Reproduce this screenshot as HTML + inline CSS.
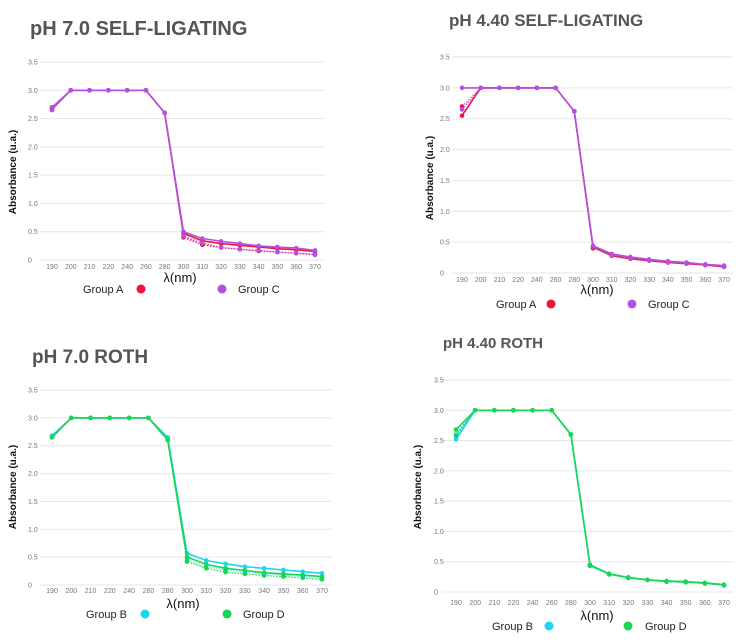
<!DOCTYPE html>
<html><head><meta charset="utf-8">
<style>
html,body{margin:0;padding:0;background:#fff;}
svg{display:block;font-family:"Liberation Sans",sans-serif;}
.title{font-weight:bold;fill:#555;}
.tick{font-size:7px;fill:#777;}
.ytitle{font-size:10px;font-weight:bold;fill:#111;}
.xtitle{font-size:13px;fill:#111;}
.leg{font-size:11px;fill:#222;}
</style></head>
<body>
<svg id="c" width="744" height="643" viewBox="0 0 744 643"></svg>
<script>
const categories=[190,200,210,220,240,260,280,300,310,320,330,340,350,360,370];
const yTicks=[0,0.5,1.0,1.5,2.0,2.5,3.0,3.5];
const yTickLabels=["0","0.5","1.0","1.5","2.0","2.5","3.0","3.5"];
// panel 1 pH 7.0 self-ligating
const p1A=[2.68,3,3,3,3,3,2.6,0.47,0.34,0.29,0.26,0.23,0.2,0.18,0.15];
const p1A2=[2.66,3,3,3,3,3,2.6,0.4,0.27,0.22,0.19,0.16,0.14,0.12,0.1];
const p1C=[2.7,3,3,3,3,3,2.6,0.5,0.38,0.33,0.29,0.25,0.23,0.21,0.17];
const p1C2=[2.65,3,3,3,3,3,2.6,0.42,0.3,0.22,0.19,0.17,0.14,0.12,0.09];
// panel 2 pH 4.40 self-ligating
const p2A=[2.55,3,3,3,3,3,2.62,0.42,0.28,0.23,0.2,0.17,0.15,0.13,0.1];
const p2A2=[2.7,3,3,3,3,3,2.62,0.4,0.3,0.25,0.21,0.18,0.16,0.13,0.11];
const p2C=[3.0,3,3,3,3,3,2.62,0.44,0.31,0.26,0.22,0.19,0.17,0.14,0.12];
const p2C2=[2.65,3,3,3,3,3,2.62,0.43,0.29,0.24,0.2,0.17,0.15,0.13,0.1];
// panel 3 pH 7.0 Roth
const p3B=[2.68,3,3,3,3,3,2.65,0.57,0.44,0.38,0.33,0.3,0.27,0.24,0.21];
const p3B2=[2.66,3,3,3,3,3,2.62,0.45,0.33,0.27,0.23,0.2,0.18,0.16,0.13];
const p3D=[2.65,3,3,3,3,3,2.6,0.5,0.37,0.3,0.26,0.22,0.2,0.18,0.15];
const p3D2=[2.65,3,3,3,3,3,2.6,0.42,0.3,0.23,0.2,0.17,0.15,0.13,0.1];
// panel 4 pH 4.40 Roth
const p4B=[2.52,3,3,3,3,3,2.6,0.44,0.3,0.24,0.2,0.18,0.17,0.15,0.12];
const p4B2=[2.6,3,3,3,3,3,2.6,0.43,0.29,0.24,0.2,0.17,0.16,0.14,0.11];
const p4D=[2.68,3,3,3,3,3,2.6,0.45,0.3,0.24,0.2,0.18,0.17,0.15,0.12];
const p4D2=[2.58,3,3,3,3,3,2.6,0.44,0.29,0.23,0.2,0.17,0.16,0.14,0.11];

const NS="http://www.w3.org/2000/svg";
const svg=document.getElementById('c');
function mk(tag,attrs,parent){const e=document.createElementNS(NS,tag);for(const k in attrs)e.setAttribute(k,attrs[k]);(parent||svg).appendChild(e);return e;}

function panel(cfg){
  const g=mk('g',{});
  
  
  const yS=v=>cfg.y0+(cfg.y35-cfg.y0)*v/3.5;
  const xS=i=>cfg.x190+(cfg.x370-cfg.x190)*i/(categories.length-1);
  const t=mk('text',{x:cfg.tx,y:cfg.ty,class:'title','font-size':cfg.tfs},g);
  t.textContent=cfg.title;
  
  
  yTicks.forEach((v,i)=>{
    const l=mk('line',{x1:cfg.gx0,x2:cfg.gx1,y1:yS(v),y2:yS(v),stroke:'#e6e6e6','stroke-width':1},g);
    
    
    const tt=mk('text',{x:cfg.lx,y:yS(v)+2.5,class:'tick'},g);
    tt.textContent=yTickLabels[i];
    
    
  });
  categories.forEach((c,i)=>{
    const tt=mk('text',{x:xS(i),y:cfg.xly,class:'tick','text-anchor':'middle'},g);
    tt.textContent=c;
    
    
  });
  const yt=mk('text',{x:0,y:0,class:'ytitle','text-anchor':'middle',transform:`translate(${cfg.ytx},${cfg.yty}) rotate(-90)`},g);
  yt.textContent='Absorbance (u.a.)';
  
  
  const xt=mk('text',{x:cfg.xtx,y:cfg.xty,class:'xtitle','text-anchor':'middle'},g);
  xt.textContent='λ(nm)';
  
  
  cfg.series.forEach(s=>{
    const pts=s.data.map((v,i)=>xS(i).toFixed(1)+','+yS(v).toFixed(1)).join(' ');
    const pl=mk('polyline',{points:pts,fill:'none',stroke:s.color,'stroke-width':s.dash?1.3:1.6,'stroke-dasharray':s.dash?'1.5,1.5':'none',opacity:s.op||1},g);
    
    
    s.data.forEach((v,i)=>{
      const c=mk('circle',{cx:xS(i),cy:yS(v),r:2.3,fill:s.color},g);
      
      
    });
  });
  cfg.legend.forEach(L=>{
    const lt=mk('text',{x:L.x,y:cfg.legy+4,class:'leg'},g);
    lt.textContent=L.label;
    
    
    const ld=mk('circle',{cx:L.dx,cy:cfg.legy,r:4.5,fill:L.color},g);
    
    
  });
}
const RED='#f0133a',PUR='#b44fe0',CY='#1ad6f0',GR='#17d653';
panel({name:'chart-ph7-self-ligating',title:'pH 7.0   SELF-LIGATING',tx:30,ty:35,tfs:20,
  y0:260,y35:62,x190:52,x370:315,gx0:40,gx1:325,lx:28,xly:269,ytx:16,yty:172,xtx:180,xty:282,legy:289,
  series:[{name:'group-a',data:p1A,color:RED},{name:'group-a-dotted',data:p1A2,color:RED,dash:1},
          {name:'group-c',data:p1C,color:PUR},{name:'group-c-dotted',data:p1C2,color:PUR,dash:1}],
  legend:[{label:'Group A',x:83,dx:141,color:RED},{label:'Group C',x:238,dx:222,color:PUR}]});
panel({name:'chart-ph440-self-ligating',title:'pH 4.40   SELF-LIGATING',tx:449,ty:26,tfs:17,
  y0:273,y35:57,x190:462,x370:724,gx0:452,gx1:733,lx:440,xly:282,ytx:433,yty:178,xtx:597,xty:294,legy:304,
  series:[{name:'group-a',data:p2A,color:RED},{name:'group-a-dotted',data:p2A2,color:RED,dash:1,op:0.6},
          {name:'group-c',data:p2C,color:PUR},{name:'group-c-dotted',data:p2C2,color:PUR,dash:1}],
  legend:[{label:'Group A',x:496,dx:551,color:RED},{label:'Group C',x:648,dx:632,color:PUR}]});
panel({name:'chart-ph7-roth',title:'pH 7.0 ROTH',tx:32,ty:363,tfs:19,
  y0:585,y35:390,x190:52,x370:322,gx0:40,gx1:332,lx:28,xly:593,ytx:16,yty:487,xtx:183,xty:608,legy:614,
  series:[{name:'group-b',data:p3B,color:CY},{name:'group-b-dotted',data:p3B2,color:CY,dash:1,op:0.6},
          {name:'group-d',data:p3D,color:GR},{name:'group-d-dotted',data:p3D2,color:GR,dash:1}],
  legend:[{label:'Group B',x:86,dx:145,color:CY},{label:'Group D',x:243,dx:227,color:GR}]});
panel({name:'chart-ph440-roth',title:'pH 4.40 ROTH',tx:443,ty:348,tfs:15,
  y0:592,y35:380,x190:456,x370:724,gx0:442,gx1:733,lx:434,xly:605,ytx:421,yty:487,xtx:597,xty:620,legy:626,
  series:[{name:'group-b',data:p4B,color:CY},{name:'group-b-dotted',data:p4B2,color:CY,dash:1},
          {name:'group-d',data:p4D,color:GR},{name:'group-d-dotted',data:p4D2,color:GR,dash:1}],
  legend:[{label:'Group B',x:492,dx:549,color:CY},{label:'Group D',x:645,dx:628,color:GR}]});
</script>
</body></html>
